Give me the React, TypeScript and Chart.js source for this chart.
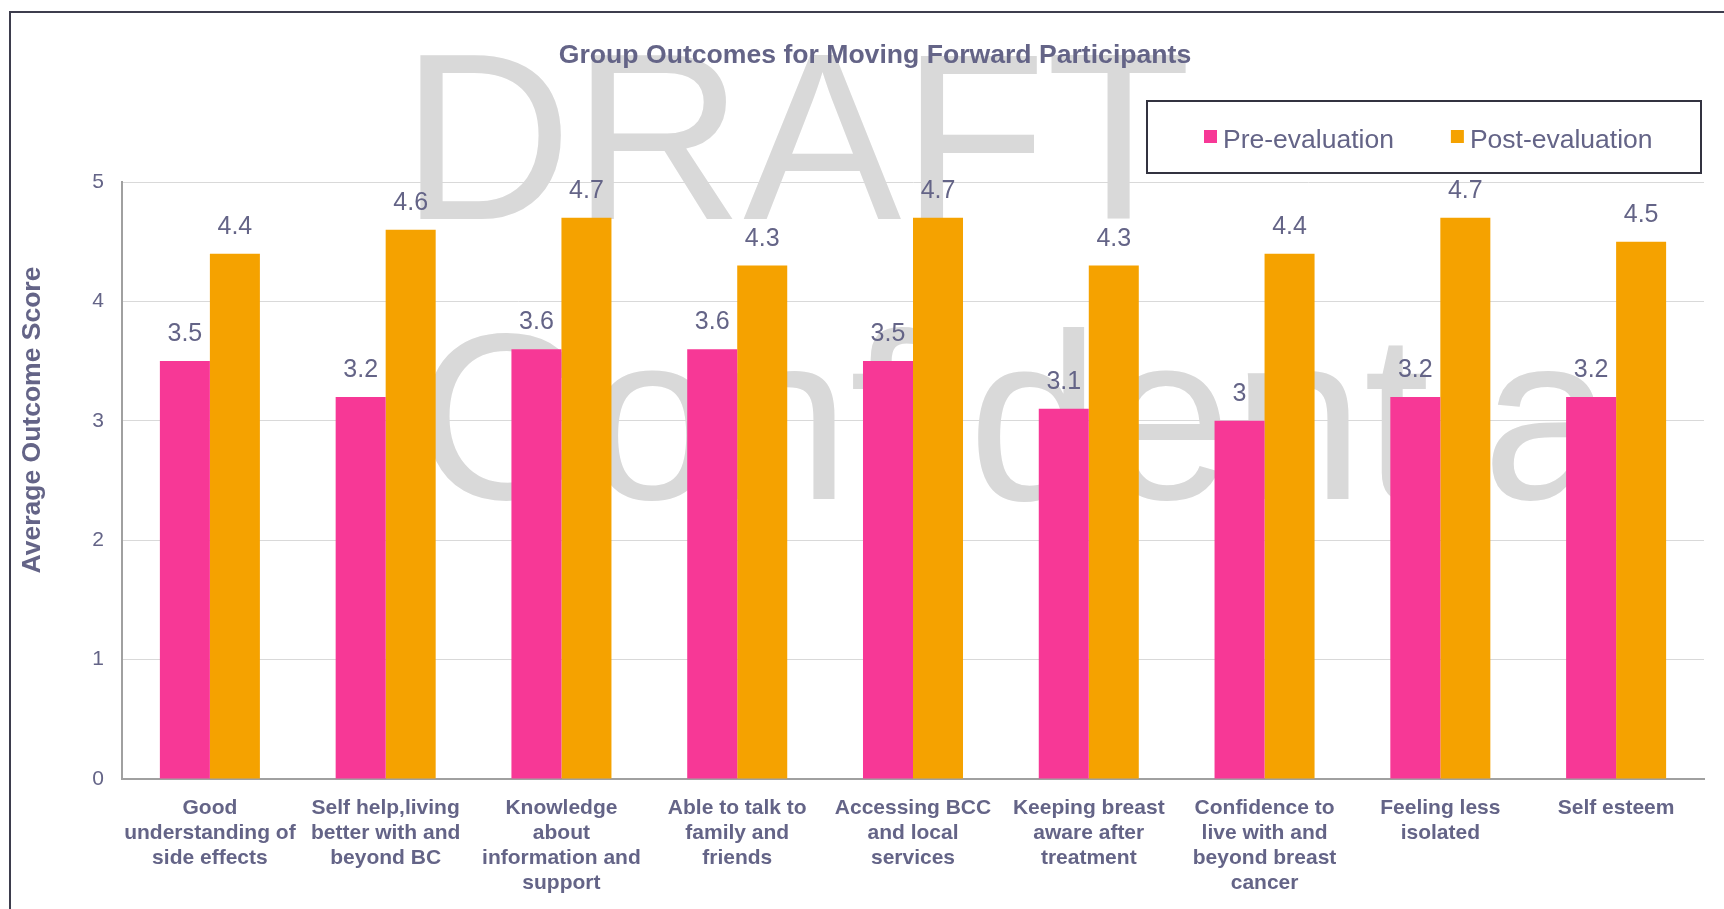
import React, { useEffect, useRef } from "react";
import { Chart, registerables } from "chart.js";

Chart.register(...registerables);

const FONT = '"Liberation Sans", Arial, sans-serif';
const TEXT_COLOR = "#646487";

const categories: string[][] = [
  ["Good", "understanding of", "side effects"],
  ["Self help,living", "better with and", "beyond BC"],
  ["Knowledge", "about", "information and", "support"],
  ["Able to talk to", "family and", "friends"],
  ["Accessing BCC", "and local", "services"],
  ["Keeping breast", "aware after", "treatment"],
  ["Confidence to", "live with and", "beyond breast", "cancer"],
  ["Feeling less", "isolated"],
  ["Self esteem"],
];

const preValues = [3.5, 3.2, 3.6, 3.6, 3.5, 3.1, 3.0, 3.2, 3.2];
const postValues = [4.4, 4.6, 4.7, 4.3, 4.7, 4.3, 4.4, 4.7, 4.5];
const seriesLabels = ["Pre-evaluation", "Post-evaluation"];
const seriesColors = ["#F73896", "#F5A200"];
const yMin = 0;
const yMax = 5;
const yStep = 1;
const chartTitle = "Group Outcomes for Moving Forward Participants";
const yAxisTitle = "Average Outcome Score";
const watermarkLines = ["DRAFT", "Confidential"];

const watermarkPlugin = {
  id: "watermark",
  beforeDatasetsDraw(chart: any) {
    const ctx = chart.ctx;
    ctx.save();
    ctx.fillStyle = "#d9d9d9";
    ctx.font = `237px ${FONT}`;
    ctx.textAlign = "left";
    ctx.textBaseline = "alphabetic";
    ctx.fillText(watermarkLines[0], 390, 206);
    ctx.fillText(watermarkLines[1], 404, 486);
    ctx.restore();
  },
};

const dataLabelPlugin = {
  id: "dataLabels",
  afterDatasetsDraw(chart: any) {
    const ctx = chart.ctx;
    ctx.save();
    ctx.fillStyle = TEXT_COLOR;
    ctx.font = `25px ${FONT}`;
    ctx.textAlign = "center";
    ctx.textBaseline = "alphabetic";
    chart.data.datasets.forEach((ds: any, di: number) => {
      const meta = chart.getDatasetMeta(di);
      meta.data.forEach((bar: any, i: number) => {
        ctx.fillText(String(ds.data[i]), bar.x, bar.y - 20);
      });
    });
    ctx.restore();
  },
};

const decorPlugin = {
  id: "decor",
  afterDraw(chart: any) {
    const ctx = chart.ctx;
    ctx.save();
    // title
    ctx.fillStyle = TEXT_COLOR;
    ctx.font = `bold 26.6px ${FONT}`;
    ctx.textAlign = "center";
    ctx.textBaseline = "alphabetic";
    ctx.fillText(chartTitle, 864, 50);
    // y axis title
    ctx.save();
    ctx.translate(22, 407);
    ctx.rotate(-Math.PI / 2);
    ctx.font = `bold 26.5px ${FONT}`;
    ctx.textBaseline = "middle";
    ctx.fillText(yAxisTitle, 0, 0);
    ctx.restore();
    // legend box
    ctx.fillStyle = "#ffffff";
    ctx.fillRect(1136, 88, 554, 72);
    ctx.strokeStyle = "#333340";
    ctx.lineWidth = 2;
    ctx.strokeRect(1136, 88, 554, 72);
    ctx.font = `26.5px ${FONT}`;
    ctx.textAlign = "left";
    let x = 1193;
    chart.data.datasets.forEach((ds: any) => {
      ctx.fillStyle = ds.backgroundColor;
      ctx.fillRect(x, 117, 13, 13);
      ctx.fillStyle = TEXT_COLOR;
      ctx.fillText(ds.label, x + 19, 135);
      x += 19 + ctx.measureText(ds.label).width + 57;
    });
    ctx.restore();
  },
};

export default function App() {
  const ref = useRef<HTMLCanvasElement | null>(null);

  useEffect(() => {
    if (!ref.current) return;
    const chart = new Chart(ref.current, {
      type: "bar",
      data: {
        labels: categories,
        datasets: [
          { label: seriesLabels[0], data: preValues, backgroundColor: seriesColors[0] },
          { label: seriesLabels[1], data: postValues, backgroundColor: seriesColors[1] },
        ],
      },
      options: {
        animation: false,
        responsive: true,
        maintainAspectRatio: false,
        datasets: { bar: { categoryPercentage: 0.569, barPercentage: 1 } },
        layout: { padding: { top: 169, right: 20, left: 0, bottom: 0 } },
        plugins: {
          legend: { display: false },
          title: { display: false },
          tooltip: { enabled: false },
        },
        scales: {
          x: {
            grid: { display: false, drawTicks: false },
            border: { display: true, color: "#a0a0a0", width: 2 },
            ticks: {
              color: TEXT_COLOR,
              font: { family: FONT, size: 21, weight: "bold", lineHeight: 25 / 21 },
              padding: 17,
              maxRotation: 0,
              minRotation: 0,
              autoSkip: false,
            },
            afterFit: (s: any) => {
              s.height = 130;
            },
          },
          y: {
            min: yMin,
            max: yMax,
            grid: { color: "#d9d9d9", lineWidth: 1, drawTicks: false },
            border: { display: true, color: "#a0a0a0", width: 2 },
            ticks: {
              stepSize: yStep,
              color: TEXT_COLOR,
              font: { family: FONT, size: 21 },
              padding: 18,
            },
            afterFit: (s: any) => {
              s.width = 111;
            },
          },
        },
      } as any,
      plugins: [watermarkPlugin, dataLabelPlugin, decorPlugin],
    });
    return () => chart.destroy();
  }, []);

  return (
    <div style={{ position: "fixed", left: 0, top: 0, width: 1724, height: 909, overflow: "hidden", background: "#ffffff" }}>
      <div style={{ position: "absolute", left: 9, top: 11, width: 1800, height: 1000, border: "2px solid #3d3d4d" }} />
      <div style={{ position: "absolute", left: 11, top: 13, width: 1713, height: 896 }}>
        <canvas ref={ref} />
      </div>
    </div>
  );
}
